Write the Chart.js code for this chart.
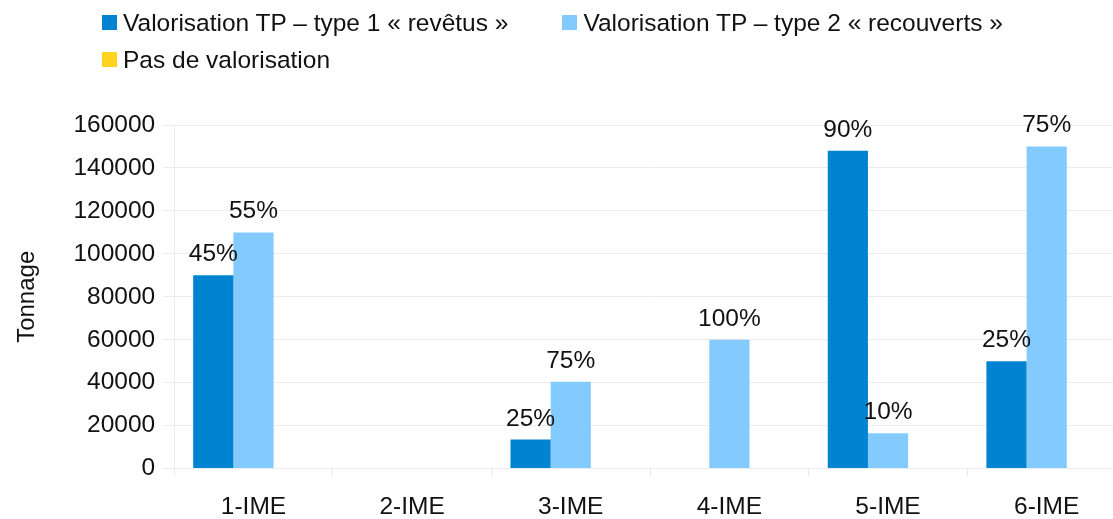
<!DOCTYPE html>
<html>
<head>
<meta charset="utf-8">
<script src="https://cdn.jsdelivr.net/npm/chart.js@4"></script>
<style>
  html, body { margin: 0; padding: 0; background: #fff; overflow: hidden; }
  #wrap { position: relative; width: 1128px; height: 540px; }
  #legend {
    position: absolute; left: 102px; top: 4px; width: 960px;
    display: flex; flex-wrap: wrap;
    font-family: "Liberation Sans", Arial, sans-serif; font-size: 24.5px; color: #111;
  }
  #legend .item { display: flex; align-items: center; margin-right: 54px; height: 37px; }
  #legend .box { width: 15px; height: 15px; margin-right: 6px; }
</style>
</head>
<body>
<div id="wrap">
  <canvas id="chart" width="1128" height="540"></canvas>
  <div id="legend"></div>
</div>
<script>
/* ====== data ===== */
const categories = ['1-IME', '2-IME', '3-IME', '4-IME', '5-IME', '6-IME'];
const seriesNames = [
  'Valorisation TP \u2013 type 1 \u00ab rev\u00eatus \u00bb',
  'Valorisation TP \u2013 type 2 \u00ab recouverts \u00bb',
  'Pas de valorisation'
];
const type1Values = [90000, 0, 13500, 0, 148000, 50000];
const type2Values = [110000, 0, 40500, 60000, 16500, 150000];
const noneValues = [0, 0, 0, 0, 0, 0];
const type1Pct = ['45%', '', '25%', '', '90%', '25%'];
const type2Pct = ['55%', '', '75%', '100%', '10%', '75%'];
const nonePct = ['', '', '', '', '', ''];
const yTicks = [0, 20000, 40000, 60000, 80000, 100000, 120000, 140000, 160000];

const colors = ['#0084D1', '#83CAFF', '#FFD320'];
const FONT = '"Liberation Sans", Arial, sans-serif';

let chartData = {
  labels: categories,
  datasets: [
    { label: seriesNames[0], data: type1Values, pct: type1Pct, backgroundColor: colors[0] },
    { label: seriesNames[1], data: type2Values, pct: type2Pct, backgroundColor: colors[1] },
    { label: seriesNames[2], data: noneValues, pct: nonePct, backgroundColor: colors[2] }
  ]
};

// percent labels above each bar
const pctLabels = {
  id: 'pctLabels',
  afterDatasetsDraw(chart) {
    const ctx = chart.ctx;
    ctx.save();
    ctx.font = '24.5px ' + FONT;
    ctx.fillStyle = '#111';
    ctx.textAlign = 'center';
    ctx.textBaseline = 'alphabetic';
    chart.data.datasets.forEach((ds, i) => {
      chart.getDatasetMeta(i).data.forEach((bar, j) => {
        if (ds.pct[j]) ctx.fillText(ds.pct[j], bar.x, bar.y - 14);
      });
    });
    ctx.restore();
  }
};

const chartConfig = {
  type: 'bar',
  data: chartData,
  options: {
    responsive: false,
    animation: false,
    layout: { padding: { top: 125, right: 2, bottom: 2, left: 0 } },
    datasets: { bar: { categoryPercentage: 0.76, barPercentage: 1 } },
    plugins: {
      legend: { display: false },
      tooltip: { enabled: false }
    },
    scales: {
      x: {
        grid: { drawOnChartArea: false, color: '#e6e6e6', tickLength: 7 },
        border: { color: '#ececec' },
        ticks: { color: '#111', font: { family: FONT, size: 24.5 }, padding: 16.5 }
      },
      y: {
        min: 0,
        max: 160000,
        afterBuildTicks: (axis) => { axis.ticks = yTicks.map(v => ({ value: v })); },
        grid: { color: '#ececec', tickLength: 11 },
        border: { color: '#ececec' },
        ticks: {
          color: '#111',
          font: { family: FONT, size: 24.5 },
          padding: 8,
          callback: (v) => String(v)
        },
        title: {
          display: true,
          text: 'Tonnage',
          color: '#111',
          font: { family: FONT, size: 24 },
          padding: { top: 12.6, bottom: 24 }
        }
      }
    }
  },
  plugins: [pctLabels]
};

const chart = new Chart(document.querySelector('#chart'), chartConfig);

// html legend built from the datasets
const legend = document.querySelector('#legend');
chartData.datasets.forEach(ds => {
  const item = document.createElement('div');
  item.className = 'item';
  const box = document.createElement('span');
  box.className = 'box';
  box.style.background = ds.backgroundColor;
  const txt = document.createElement('span');
  txt.textContent = ds.label;
  item.appendChild(box);
  item.appendChild(txt);
  legend.appendChild(item);
});
</script>
</body>
</html>
